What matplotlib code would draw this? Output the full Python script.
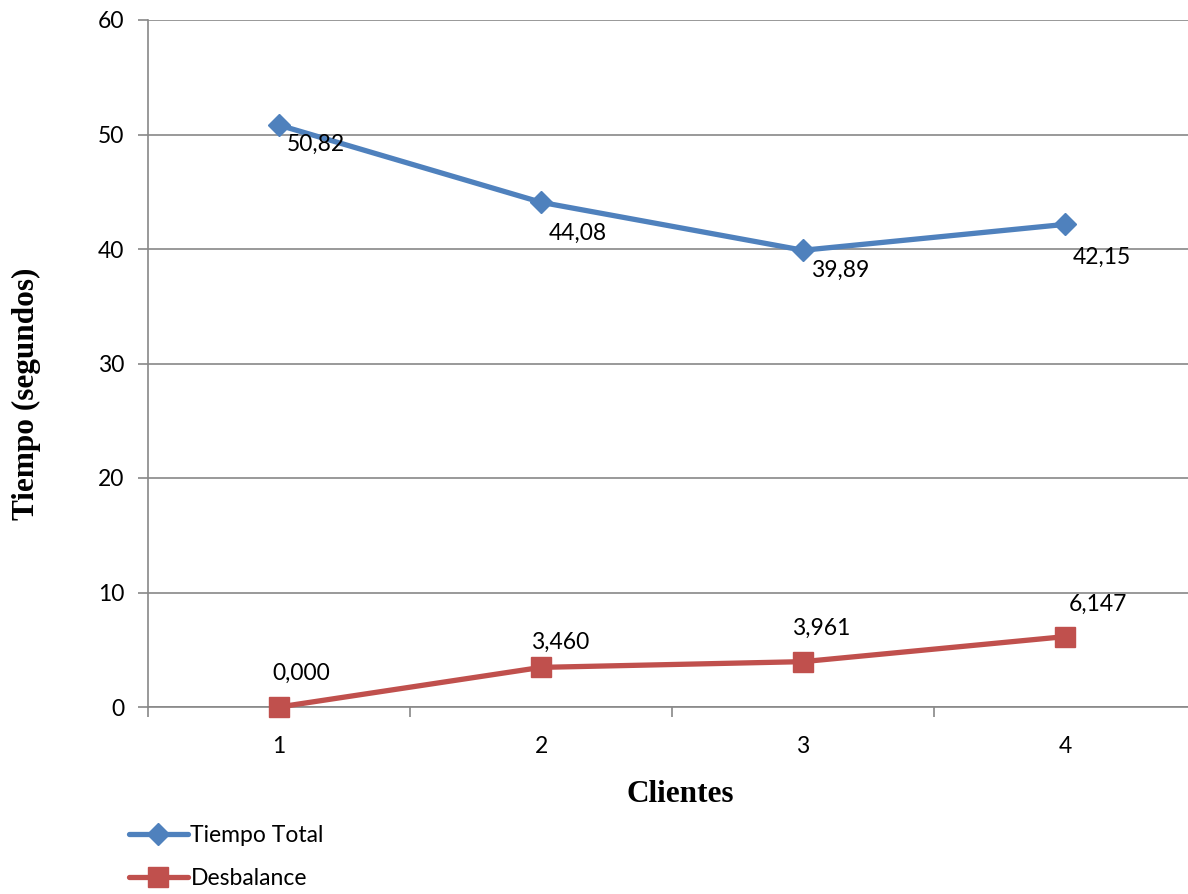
import matplotlib
matplotlib.use("Agg")
import matplotlib.pyplot as plt
from matplotlib.lines import Line2D

# Data
clientes = ["1", "2", "3", "4"]
tiempo_total = [50.82, 44.08, 39.89, 42.15]
desbalance = [0.000, 3.460, 3.961, 6.147]
tiempo_labels = ["50,82", "44,08", "39,89", "42,15"]
desbalance_labels = ["0,000", "3,460", "3,961", "6,147"]
y_ticks = [0, 10, 20, 30, 40, 50, 60]

BLUE = "#4F81BD"
RED = "#C0504D"
GRID = "#888888"
SANS = ["Lato", "DejaVu Sans"]
SERIF = ["Liberation Serif", "DejaVu Serif"]
FS = 16.5

W, H = 1188, 894
fig = plt.figure(figsize=(W / 100, H / 100), dpi=100)
left, right_px, top_px, bottom_px = 148, 1196, 20, 707
ax = fig.add_axes([left / W, 1 - bottom_px / H, (right_px - left) / W, (bottom_px - top_px) / H])

x = list(range(len(clientes)))
ax.plot(x, tiempo_total, color=BLUE, lw=3.8, marker="D", ms=11, mfc=BLUE, mec=BLUE,
        solid_capstyle="round", zorder=3, clip_on=False)
ax.plot(x, desbalance, color=RED, lw=3.8, marker="s", ms=14, mfc=RED, mec=RED,
        solid_capstyle="round", zorder=3, clip_on=False)

# value labels (offsets in pixels)
tiempo_off = [(37, -19), (37, -31), (37, -20), (37, -33)]
desb_off = [(22, 34), (19, 25), (18, 33), (33, 32)]
for xi, v, s, o in zip(x, tiempo_total, tiempo_labels, tiempo_off):
    ax.annotate(s, (xi, v), xytext=o, textcoords="offset pixels", ha="center", va="center",
                fontsize=FS, family=SANS, color="black", annotation_clip=False)
for xi, v, s, o in zip(x, desbalance, desbalance_labels, desb_off):
    ax.annotate(s, (xi, v), xytext=o, textcoords="offset pixels", ha="center", va="center",
                fontsize=FS, family=SANS, color="black", annotation_clip=False)

ax.set_xlim(-0.5, 3.5)
ax.set_ylim(0, 60)
ax.set_yticks(y_ticks)
ax.set_yticklabels([str(t) for t in y_ticks], family=SANS, fontsize=FS)
ax.set_xticks(x)
ax.set_xticklabels(clientes, family=SANS, fontsize=FS)
ax.set_xticks([-0.5, 0.5, 1.5, 2.5], minor=True)
ax.tick_params(axis="x", which="major", length=0, pad=21)
ax.tick_params(axis="x", which="minor", length=7, color=GRID, width=1.2, direction="out")
ax.tick_params(axis="y", length=7, color=GRID, width=1.2, direction="out", pad=10)

ax.grid(axis="y", color=GRID, lw=1.2)
ax.set_axisbelow(True)
for side in ["top", "right"]:
    ax.spines[side].set_visible(False)
for side in ["left", "bottom"]:
    ax.spines[side].set_color(GRID)
    ax.spines[side].set_linewidth(1.2)

fig.text(26 / W, 1 - 394 / H, "Tiempo (segundos)", rotation=90, ha="center", va="center",
         family=SERIF, fontweight="bold", fontsize=22.5)
fig.text(680 / W, 1 - 794 / H, "Clientes", ha="center", va="center",
         family=SERIF, fontweight="bold", fontsize=22.5)

# legend
handles = [Line2D([], [], color=BLUE, lw=3.8, marker="D", ms=11, solid_capstyle="round"),
           Line2D([], [], color=RED, lw=3.8, marker="s", ms=14, solid_capstyle="round")]
fig.legend(handles, ["Tiempo Total", "Desbalance"], loc="center left",
           bbox_to_anchor=(108 / W, 1 - 857 / H), frameon=False, handlelength=2.6,
           handletextpad=0.1, labelspacing=1.0, prop={"family": SANS, "size": FS})

fig.savefig("out.png", dpi=100)
